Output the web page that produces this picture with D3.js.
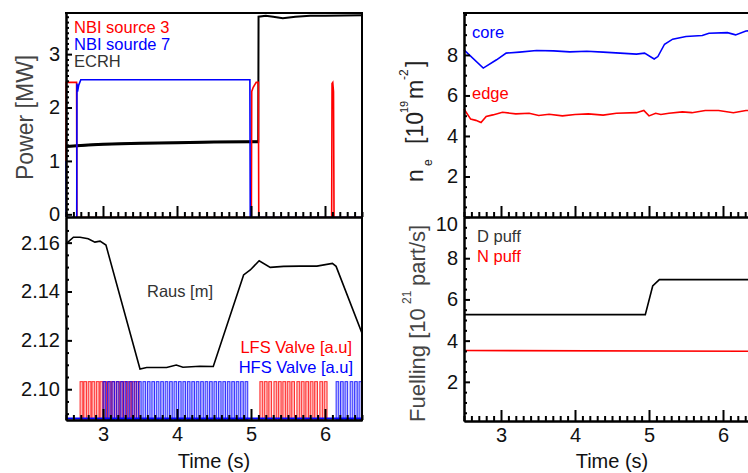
<!DOCTYPE html>
<html>
<head>
<meta charset="utf-8">
<script src="https://cdn.jsdelivr.net/npm/d3@7"></script>
<style>
  body { margin: 0; background: #fff; }
  svg { display: block; font-family: "Liberation Sans", Arial, sans-serif; }
</style>
</head>
<body>
<svg width="748" height="473"></svg>
<script>
// ---- data ----
const xTicks = [3, 4, 5, 6]
const powerTicks = [0, 1, 2, 3]
const rausTicks = [2.10, 2.12, 2.14, 2.16]
const densTicks = [2, 4, 6, 8]
const fuelTicks = [2, 4, 6, 8, 10]

// power [MW] vs time [s]  (off = just below zero, hidden under the axis)
const nbi3 = [[2.5, 1.0], [2.503, 2.47], [2.643, 2.47], [2.647, -0.06], [5.005, -0.06], [5.01, 2.3], [5.03, 2.38],
  [5.07, 2.47], [5.1, 2.47], [5.105, -0.06], [6.09, -0.06], [6.095, 2.45], [6.105, 2.47], [6.115, 2.3], [6.122, -0.06], [6.5, -0.06]]
const nbi7 = [[2.5, 1.0], [2.503, -0.06], [2.645, -0.06], [2.648, 2.45], [2.656, 2.3], [2.672, 2.42], [2.7, 2.52],
  [4.985, 2.52], [4.99, -0.06], [6.5, -0.06]]
const ecrh = [[2.5, 1.27], [2.8, 1.30], [3.0, 1.31], [3.5, 1.33], [4.0, 1.34], [4.5, 1.355], [5.0, 1.36],
  [5.098, 1.36], [5.102, 3.70], [5.2, 3.72], [5.3, 3.70], [5.43, 3.67], [5.6, 3.70], [5.8, 3.72], [6.0, 3.72], [6.5, 3.73]]

// Raus [m]
const raus = [[2.5, 2.1595], [2.6, 2.1622], [2.69, 2.1622], [2.8, 2.1616], [2.89, 2.1602], [2.96, 2.1606],
  [3.04, 2.159], [3.5, 2.1083], [3.59, 2.1089], [3.86, 2.1089], [3.99, 2.1099], [4.08, 2.109], [4.31, 2.1094],
  [4.49, 2.1093], [4.9, 2.1468], [4.99, 2.1488], [5.11, 2.1526], [5.26, 2.1499], [5.44, 2.1503], [5.66, 2.1504],
  [5.89, 2.1504], [6.1, 2.1515], [6.15, 2.1503], [6.5, 2.1229]]

// gas valve pulses: onset times [s]
const valveLow = 2.0876
const valveHigh = 2.1031
const lfsOn = [2.69, 2.74, 2.80, 2.85, 2.91, 2.96, 3.01, 3.07, 3.12, 3.18, 3.23, 3.28, 3.34, 3.39, 3.45,
  5.12, 5.18, 5.24, 5.31, 5.37, 5.43, 5.49, 5.55, 5.62, 5.68, 5.74, 5.80, 5.86, 5.93, 5.99]
const hfsOn = [3.00, 3.06, 3.12, 3.18, 3.24, 3.30, 3.36, 3.42, 3.48, 3.54, 3.60, 3.66, 3.72, 3.78, 3.84,
  3.90, 3.96, 4.02, 4.08, 4.14, 4.20, 4.26, 4.32, 4.38, 4.44, 4.50, 4.56, 4.62, 4.68, 4.74, 4.80, 4.86, 4.92,
  6.15, 6.21, 6.27, 6.34, 6.40, 6.46]
const lfsWidth = 0.038
const hfsWidth = 0.036

// line-integrated density [1e19 m^-2]
const core = [[2.5, 8.25], [2.76, 7.35], [2.94, 7.76], [3.07, 8.09], [3.25, 8.14], [3.48, 8.22], [3.71, 8.2],
  [3.93, 8.15], [4.16, 8.18], [4.38, 8.14], [4.61, 8.09], [4.83, 8.04], [4.94, 8.09], [5.07, 7.8], [5.12, 7.92],
  [5.21, 8.53], [5.32, 8.78], [5.5, 8.91], [5.72, 8.96], [5.81, 9.07], [6.06, 9.1], [6.17, 8.99], [6.31, 9.18], [6.5, 9.25]]
const edge = [[2.5, 5.33], [2.59, 4.83], [2.66, 4.77], [2.73, 4.66], [2.8, 4.96], [2.89, 5.04], [3.02, 5.17],
  [3.2, 5.09], [3.38, 5.12], [3.51, 5.01], [3.65, 5.07], [3.83, 4.99], [4.0, 5.06], [4.18, 5.09], [4.38, 5.03],
  [4.56, 5.12], [4.83, 5.15], [4.93, 5.26], [5.0, 4.99], [5.09, 5.12], [5.16, 5.06], [5.27, 5.12], [5.45, 5.19],
  [5.58, 5.15], [5.76, 5.26], [5.94, 5.26], [6.14, 5.15], [6.31, 5.26], [6.5, 5.24]]

// fuelling [1e21 part/s]
const dPuff = [[2.5, 5.26], [4.95, 5.26], [5.05, 6.65], [5.14, 6.96], [6.5, 6.96]]
const nPuff = [[2.5, 3.52], [6.5, 3.48]]

// ---- layout ----
const svg = d3.select("svg")
const font = "Liberation Sans, Arial, sans-serif"
const RED = "#ff0000", BLUE = "#0000ff"

const xL = d3.scaleLinear().domain([2.5, 6.5]).range([66, 362])
const xR = d3.scaleLinear().domain([2.5, 6.5]).range([464, 760])
const yPow = d3.scaleLinear().domain([-0.05, 3.77]).range([217, 13])
const yRaus = d3.scaleLinear().domain([2.0874, 2.1705]).range([420, 217])
const yDen = d3.scaleLinear().domain([0, 10.07]).range([217, 13])
const yFuel = d3.scaleLinear().domain([0.1, 10]).range([421, 217])

const xMinor = d3.range(25, 66).map(d => d / 10).filter(d => !xTicks.includes(d))

const defs = svg.append("defs")
const clip = (id, x, y, w, h) => {
  defs.append("clipPath").attr("id", id).append("rect").attr("x", x).attr("y", y).attr("width", w).attr("height", h)
  return svg.append("g").attr("clip-path", `url(#${id})`)
}

const gTL = clip("cTL", 64, 13, 298, 204)
const gBL = clip("cBL", 64, 217, 298, 203)
const gTR = clip("cTR", 462, 13, 300, 204)
const gBR = clip("cBR", 462, 217, 300, 204)

const line = (x, y) => d3.line().x(d => x(d[0])).y(d => y(d[1]))

// valve pulses
const pulses = (times, w, color) => {
  gBL.append("g").selectAll("rect").data(times).join("rect")
    .attr("x", d => xL(d))
    .attr("y", yRaus(valveHigh))
    .attr("width", d => xL(d + w) - xL(d))
    .attr("height", yRaus(valveLow) - yRaus(valveHigh))
    .attr("fill", color).attr("fill-opacity", 0.28)
    .attr("stroke", color).attr("stroke-opacity", 0.8).attr("stroke-width", 1)
}
pulses(lfsOn, lfsWidth, RED)
pulses(hfsOn, hfsWidth, BLUE)
gBL.append("line").attr("x1", 66).attr("x2", 362).attr("y1", yRaus(valveLow) - 1).attr("y2", yRaus(valveLow) - 1)
  .attr("stroke", BLUE).attr("stroke-width", 2)

gBL.append("path").datum(raus).attr("d", line(xL, yRaus)).attr("fill", "none").attr("stroke", "#000").attr("stroke-width", 1.6)

// ECRH trace is noisy: thicker before the step, thinner after
gTL.append("path").datum(ecrh).attr("d", line(xL, yPow)).attr("fill", "none").attr("stroke", "#000").attr("stroke-width", 2)
gTL.append("path").datum(ecrh.filter(d => d[0] < 5.1)).attr("d", line(xL, yPow)).attr("fill", "none").attr("stroke", "#000").attr("stroke-width", 3)
gTL.append("path").datum(nbi3).attr("d", line(xL, yPow)).attr("fill", "none").attr("stroke", RED).attr("stroke-width", 1.6)
gTL.append("path").datum(nbi7).attr("d", line(xL, yPow)).attr("fill", "none").attr("stroke", BLUE).attr("stroke-width", 1.6)

gTR.append("path").datum(core).attr("d", line(xR, yDen)).attr("fill", "none").attr("stroke", BLUE).attr("stroke-width", 1.6)
gTR.append("path").datum(edge).attr("d", line(xR, yDen)).attr("fill", "none").attr("stroke", RED).attr("stroke-width", 1.6)

gBR.append("path").datum(dPuff).attr("d", line(xR, yFuel)).attr("fill", "none").attr("stroke", "#000").attr("stroke-width", 1.6)
gBR.append("path").datum(nPuff).attr("d", line(xR, yFuel)).attr("fill", "none").attr("stroke", RED).attr("stroke-width", 1.6)

// ---- axes ----
const style = g => {
  g.attr("font-family", font).attr("font-size", 20)
  g.select(".domain").attr("stroke", "#000").attr("stroke-width", 2)
  g.selectAll(".tick line").attr("stroke", "#000").attr("stroke-width", 2)
  g.selectAll(".tick text").attr("fill", "#111")
}

const xAxis = (x, y0, labels) => {
  svg.append("g").attr("transform", `translate(0,${y0})`)
    .call(d3.axisBottom(x).tickValues(xMinor).tickSize(-5).tickSizeOuter(0).tickFormat("")).call(style)
  svg.append("g").attr("transform", `translate(0,${y0})`)
    .call(d3.axisBottom(x).tickValues(xTicks).tickSize(-11).tickSizeOuter(0).tickPadding(7)
      .tickFormat(labels ? d3.format("d") : "")).call(style)
}
const yAxis = (y, x0, major, minor, fmt) => {
  svg.append("g").attr("transform", `translate(${x0},0)`)
    .call(d3.axisLeft(y).tickValues(minor.filter(m => !major.some(v => Math.abs(v - m) < 1e-9)))
      .tickSize(-3).tickSizeOuter(0).tickFormat("")).call(style)
  return svg.append("g").attr("transform", `translate(${x0},0)`)
    .call(d3.axisLeft(y).tickValues(major).tickSize(-6).tickSizeOuter(0).tickPadding(6).tickFormat(fmt)).call(style)
}

yAxis(yPow, 66, powerTicks, d3.range(0, 38).map(d => d / 10), d3.format("d"))
yAxis(yRaus, 66, rausTicks, d3.range(418, 434).map(d => d / 200), d3.format(".2f"))
yAxis(yDen, 464, densTicks, d3.range(1, 21).map(d => d / 2), d3.format("d"))
const fuelAx = yAxis(yFuel, 464, fuelTicks, d3.range(1, 21).map(d => d / 2), d3.format("d"))
// the top "10" label sits a little lower, clear of the panel above
fuelAx.selectAll(".tick text").filter(d => d === 10).attr("y", 7)

xAxis(xL, 217, false)
xAxis(xL, 420, true)
xAxis(xR, 217, false)
xAxis(xR, 421, true)

// frame lines
svg.append("line").attr("x1", 65).attr("x2", 363).attr("y1", 13).attr("y2", 13).attr("stroke", "#000").attr("stroke-width", 2)
svg.append("line").attr("x1", 362).attr("x2", 362).attr("y1", 13).attr("y2", 421).attr("stroke", "#000").attr("stroke-width", 2)
svg.append("line").attr("x1", 463).attr("x2", 748).attr("y1", 13).attr("y2", 13).attr("stroke", "#000").attr("stroke-width", 2)

// ---- text ----
const label = (x, y, txt, color, anchor) => svg.append("text").attr("x", x).attr("y", y)
  .attr("font-family", font).attr("font-size", 16.5).attr("fill", color)
  .attr("text-anchor", anchor || "start").text(txt)

label(74, 33, "NBI source 3", RED)
label(74, 50, "NBI sourde 7", BLUE)
label(74, 67, "ECRH", "#333")
label(147, 297, "Raus [m]", "#333")
label(352, 353, "LFS Valve [a.u]", RED, "end")
label(353, 373, "HFS Valve [a.u]", BLUE, "end")
label(472, 38, "core", BLUE)
label(472, 99, "edge", RED)
label(477, 242, "D puff", "#333")
label(477, 262, "N puff", RED)

svg.append("text").attr("x", xL(4.5)).attr("y", 468).attr("text-anchor", "middle")
  .attr("font-family", font).attr("font-size", 20).attr("fill", "#111").text("Time (s)")
svg.append("text").attr("x", xR(4.5)).attr("y", 468).attr("text-anchor", "middle")
  .attr("font-family", font).attr("font-size", 20).attr("fill", "#111").text("Time (s)")

// rotated titles built from pieces: [text, distance up from the start, shift across baseline, size]
const title = (x, y, parts, color) => {
  parts.forEach(([s, u, dy, size]) => {
    svg.append("text").attr("transform", `translate(${x + dy},${y - u}) rotate(-90)`)
      .attr("font-family", font).attr("font-size", size).attr("fill", color).text(s)
  })
}

title(33, 180, [["Power [MW]", 0, 0, 23]], "#444")
title(423, 182, [["n", 0, 0, 23], ["e", 16, 9, 12], ["[10", 38, 0, 23], ["19", 69, -15, 11],
  ["m", 83, 0, 23], ["-2", 102, -15, 12], ["]", 115, 0, 23]], "#222")
title(425, 422, [["Fuelling [10", 0, 0, 22], ["21", 118, -14, 12], ["part/s]", 136, 0, 22]], "#444")
</script>
</body>
</html>
